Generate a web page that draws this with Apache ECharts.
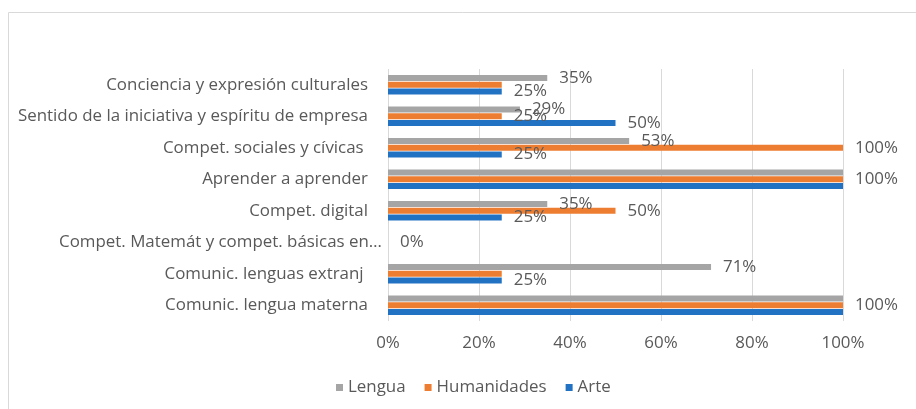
<!DOCTYPE html>
<html>
<head>
<meta charset="utf-8">
<script src="https://cdn.jsdelivr.net/npm/echarts@6/dist/echarts.min.js"></script>
<style>
  html, body { margin: 0; padding: 0; background: #fff; }
  #chart { width: 916px; height: 409px; }
</style>
</head>
<body>
<div id="chart"></div>
<script>
  // categories, bottom to top (as the category axis draws them)
  var categories = [
    'Comunic. lengua materna',
    'Comunic. lenguas extranj ',
    'Compet. Matemát y compet. básicas en…',
    'Compet. digital',
    'Aprender a aprender',
    'Compet. sociales y cívicas ',
    'Sentido de la iniciativa y espíritu de empresa',
    'Conciencia y expresión culturales'
  ];
  var lengua = [100, 71, 0, 35, 100, 53, 29, 35];
  var humanidades = [100, 25, 0, 50, 100, 100, 25, 25];
  var arte = [100, 25, 0, 25, 100, 25, 50, 25];
  // which value labels are visible in the original
  var lenguaLabels = [false, true, false, true, false, true, true, true];
  var humanidadesLabels = [true, false, true, true, true, true, true, false];
  var arteLabels = [false, true, false, true, false, true, true, true];
  var xTicks = [0, 20, 40, 60, 80, 100];

  var FONT = '"Open Sans", sans-serif';
  var TEXT = '#595959';
  var FS = 16.9;

  function buildData(values, shown) {
    return values.map(function (v, i) {
      return { value: v, label: { show: shown[i] } };
    });
  }

  function makeSeries(name, color, values, shown) {
    return {
      name: name,
      type: 'bar',
      barWidth: 6,
      barGap: '12%',
      itemStyle: { color: color },
      label: {
        position: 'right',
        distance: 12,
        color: TEXT,
        fontFamily: FONT,
        fontSize: FS,
        formatter: '{c}%'
      },
      data: buildData(values, shown)
    };
  }

  var chart = echarts.init(document.getElementById('chart'));
  chart.setOption({
    animation: false,
    textStyle: { fontFamily: FONT },
    graphic: [{
      type: 'rect',
      shape: { x: 8.5, y: 12.5, width: 920, height: 410 },
      style: { fill: 'none', stroke: '#d9d9d9', lineWidth: 1 },
      silent: true
    }],
    grid: { left: 388, right: 73, top: 69, bottom: 88 },
    legend: {
      data: ['Lengua', 'Humanidades', 'Arte'],
      left: 331,
      top: 374,
      icon: 'rect',
      itemWidth: 7,
      itemHeight: 7,
      itemGap: 19,
      textStyle: { color: TEXT, fontFamily: FONT, fontSize: FS }
    },
    xAxis: {
      type: 'value',
      min: 0,
      max: 100,
      interval: 20,
      axisLine: { show: false },
      axisTick: { show: false },
      splitLine: { lineStyle: { color: '#d9d9d9', width: 1 } },
      axisLabel: {
        color: TEXT,
        fontFamily: FONT,
        fontSize: FS,
        margin: 14,
        formatter: function (v) { return xTicks.indexOf(v) >= 0 ? v + '%' : ''; }
      }
    },
    yAxis: {
      type: 'category',
      data: categories,
      axisLine: { show: false },
      axisTick: { show: false },
      axisLabel: {
        color: TEXT,
        fontFamily: FONT,
        fontSize: FS,
        margin: 6,
        formatter: function (v) {
          return v.indexOf('…') >= 0 ? '{e|' + v + '}' : '{n|' + v + '}';
        },
        rich: {
          n: { color: TEXT, fontFamily: FONT, fontSize: FS, padding: [0, 14, 0, 0] },
          e: { color: TEXT, fontFamily: FONT, fontSize: FS }
        }
      }
    },
    // first series is drawn at the top of each band
    series: [
      makeSeries('Lengua', '#a5a5a5', lengua, lenguaLabels),
      makeSeries('Humanidades', '#ed7d31', humanidades, humanidadesLabels),
      makeSeries('Arte', '#2272c3', arte, arteLabels)
    ]
  });
</script>
</body>
</html>
